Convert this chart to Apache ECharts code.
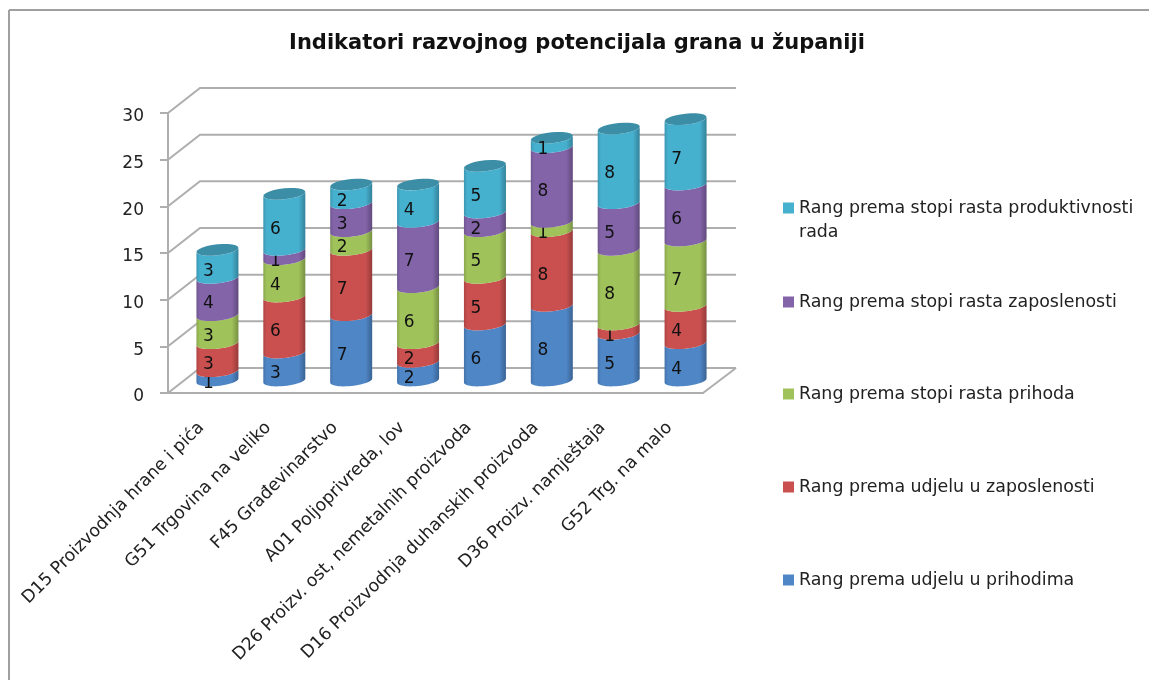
<!DOCTYPE html>
<html>
<head>
<meta charset="utf-8">
<title>Indikatori razvojnog potencijala grana u županiji</title>
<style>
html, body { margin: 0; padding: 0; background: #fff; }
#chart { width: 1149px; height: 680px; }
</style>
<script src="https://cdn.jsdelivr.net/npm/echarts@6/dist/echarts.min.js"></script>
</head>
<body>
<div id="chart"></div>
<script>
var categories = ['D15 Proizvodnja hrane i pića', 'G51 Trgovina na veliko', 'F45 Građevinarstvo', 'A01 Poljoprivreda, lov',
    'D26 Proizv. ost, nemetalnih proizvoda', 'D16 Proizvodnja duhanskih proizvoda', 'D36 Proizv. namještaja', 'G52 Trg. na malo'];
var udjelPrihodi = [1, 3, 7, 2, 6, 8, 5, 4];
var udjelZaposlenost = [3, 6, 7, 2, 5, 8, 1, 4];
var rastPrihoda = [3, 4, 2, 6, 5, 1, 8, 7];
var rastZaposlenosti = [4, 1, 3, 7, 2, 8, 5, 6];
var rastProduktivnosti = [3, 6, 2, 4, 5, 1, 8, 7];
var yTicks = [0, 5, 10, 15, 20, 25, 30];

var seriesNames = ['Rang prema udjelu u prihodima', 'Rang prema udjelu u zaposlenosti', 'Rang prema stopi rasta prihoda',
    'Rang prema stopi rasta zaposlenosti', 'Rang prema stopi rasta produktivnosti\nrada'];
var seriesColors = ['#4f86c6', '#c9504f', '#a0c25a', '#8364a9', '#46b0cf'];
var legendTops = [580, 487, 394, 302, 208];

var GRID = { left: 168, right: 446, top: 113, bottom: 287 };
var DEPTH_X = 32, DEPTH_Y = -25;   // pomak straznjeg zida
var RX = 21, RY = 5.5, TILT = -0.1;  // elipsa valjka
var FONT = '"DejaVu Sans", sans-serif';
var GREY = '#aeaeae';

function shade(hex, k) {
    var n = parseInt(hex.slice(1), 16);
    var r = Math.round((n >> 16 & 255) * k), g = Math.round((n >> 8 & 255) * k), b = Math.round((n & 255) * k);
    return 'rgb(' + r + ',' + g + ',' + b + ')';
}

function sideFill(color) {
    return {
        type: 'linear', x: 0, y: 0, x2: 1, y2: 0,
        colorStops: [
            { offset: 0, color: shade(color, 0.86) },
            { offset: 0.08, color: color },
            { offset: 0.84, color: color },
            { offset: 1, color: shade(color, 0.74) }
        ]
    };
}

// tocke na elipsi, od kuta a do kuta b
function arc(cx, cy, a, b) {
    var pts = [];
    for (var i = 0; i <= 24; i++) {
        var t = a + (b - a) * i / 24;
        pts.push([cx + RX * Math.cos(t), cy + RY * Math.sin(t) + TILT * RX * Math.cos(t)]);
    }
    return pts;
}

function renderCylinder(color, isTop) {
    return function (params, api) {
        var base = api.coord([api.value(0), api.value(1)]);
        var top = api.coord([api.value(0), api.value(2)]);
        var cx = base[0] + DEPTH_X / 2;
        var y0 = base[1] + DEPTH_Y / 2;
        var y1 = top[1] + DEPTH_Y / 2;
        // prednja strana: donji luk lijevo-desno, gornji natrag
        var body = arc(cx, y0, Math.PI, 0).concat(arc(cx, y1, 0, Math.PI));
        var children = [{
            type: 'polygon',
            shape: { points: body },
            style: { fill: sideFill(color) }
        }];
        if (isTop) {
            children.push({
                type: 'polygon',
                shape: { points: arc(cx, y1, 0, Math.PI * 2) },
                style: { fill: '#3b8ea6' }
            });
        }
        children.push({
            type: 'text',
            style: {
                text: String(api.value(3)),
                x: cx - 9,
                y: (y0 + y1) / 2 + 7.5,
                fill: '#111',
                font: '17px ' + FONT,
                align: 'center',
                verticalAlign: 'middle'
            }
        });
        return { type: 'group', children: children };
    };
}

// zidovi: crta od prednjeg ruba prema natrag pa duz straznjeg zida
function renderWall(params, api) {
    var p = api.coord([0, api.value(0)]);
    var x0 = params.coordSys.x;
    var x1 = x0 + params.coordSys.width;
    var y = p[1];
    var lineStyle = { stroke: GREY, lineWidth: 2, fill: null };
    var children = [{
        type: 'polyline',
        shape: { points: [[x0, y], [x0 + DEPTH_X, y + DEPTH_Y], [x1 + DEPTH_X + 1, y + DEPTH_Y]] },
        style: lineStyle
    }];
    if (api.value(0) === yTicks[0]) {
        children.push({
            type: 'polyline',
            shape: { points: [[x1, y], [x1 + DEPTH_X + 1, y + DEPTH_Y]] },
            style: lineStyle
        });
    }
    return { type: 'group', children: children };
}

var valueLists = [udjelPrihodi, udjelZaposlenost, rastPrihoda, rastZaposlenosti, rastProduktivnosti];
var runningTotal = categories.map(function () { return 0; });

var series = [{
    name: 'zid',
    type: 'custom',
    silent: true,
    z: 1,
    renderItem: renderWall,
    encode: { y: 0 },
    data: yTicks.map(function (v) { return [v]; })
}];

valueLists.forEach(function (values, s) {
    var data = values.map(function (v, i) {
        var item = [i, runningTotal[i], runningTotal[i] + v, v];
        runningTotal[i] += v;
        return item;
    });
    series.push({
        name: seriesNames[s],
        type: 'custom',
        silent: true,
        z: 2 + s,
        itemStyle: { color: seriesColors[s] },
        renderItem: renderCylinder(seriesColors[s], s === valueLists.length - 1),
        encode: { x: 0, y: [1, 2] },
        data: data
    });
});

var legends = seriesNames.map(function (name, s) {
    return {
        left: 783,
        top: legendTops[s] - 12 - (name.indexOf('\n') > -1 ? 24 : 0),
        padding: 0,
        orient: 'vertical',
        selectedMode: false,
        icon: 'rect',
        itemWidth: 11,
        itemHeight: 11,
        data: [name],
        formatter: function (n) {
            return n.indexOf('\n') > -1 ? '\n' + n : n;
        },
        textStyle: { fontFamily: FONT, fontSize: 17.4, color: '#222', lineHeight: 24 }
    };
});

var option = {
    animation: false,
    backgroundColor: '#fff',
    title: {
        text: 'Indikatori razvojnog potencijala grana u županiji',
        left: 572,
        top: 28,
        textAlign: 'center',
        textStyle: { fontFamily: FONT, fontSize: 21, fontWeight: 'bold', color: '#111' }
    },
    legend: legends,
    grid: { left: GRID.left, right: GRID.right, top: GRID.top, bottom: GRID.bottom },
    xAxis: {
        type: 'category',
        data: categories,
        axisLine: { lineStyle: { color: GREY, width: 2 } },
        axisTick: { length: 7, lineStyle: { color: GREY, width: 2 } },
        axisLabel: { interval: 0, rotate: 45, margin: 32, fontFamily: FONT, fontSize: 17.4, color: '#222' }
    },
    yAxis: {
        type: 'value',
        min: 0,
        max: 30,
        interval: 5,
        splitLine: { show: false },
        axisLine: { show: true, lineStyle: { color: GREY, width: 2 } },
        axisTick: { show: true, length: 8, lineStyle: { color: GREY, width: 2 } },
        axisLabel: { margin: 24, verticalAlign: 'top', lineHeight: 8, fontFamily: FONT, fontSize: 17, color: '#222' }
    },
    graphic: [
        { type: 'line', silent: true, shape: { x1: 9, y1: 10, x2: 1149, y2: 10 }, style: { stroke: '#a0a0a0', lineWidth: 2 } },
        { type: 'line', silent: true, shape: { x1: 9, y1: 10, x2: 9, y2: 680 }, style: { stroke: '#a0a0a0', lineWidth: 2 } }
    ],
    series: series
};

var myChart = echarts.init(document.getElementById('chart'));
myChart.setOption(option);
</script>
</body>
</html>
